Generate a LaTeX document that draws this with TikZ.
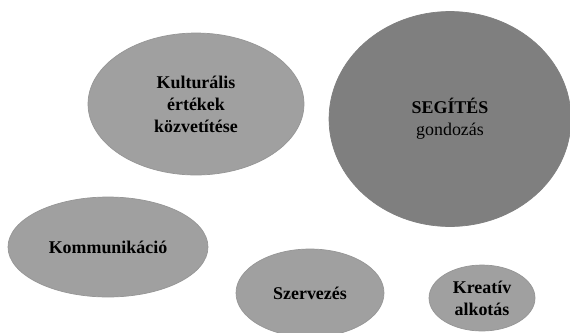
\documentclass[tikz,border=0pt]{standalone}
\usepackage{fontspec}
\setmainfont{Liberation Serif}
\usetikzlibrary{shapes.geometric, positioning}
\definecolor{BubbleGrey}{RGB}{160, 160, 160}
\definecolor{BubbleDark}{RGB}{127, 127, 127}
\definecolor{BubbleEdge}{RGB}{150, 150, 150}

\begin{document}
\begin{tikzpicture}[x=0.02cm, y=-0.02cm,
		bubble/.style={shape=ellipse, fill=BubbleGrey, draw=BubbleEdge, line width=0.4pt, inner sep=0pt, align=center, font=\fontsize{10.2}{12.5}\selectfont\bfseries},
		bigbubble/.style={bubble, fill=BubbleDark, draw=BubbleDark}]

		\useasboundingbox (0,0) rectangle (570,332);
		\clip (0,0) rectangle (570,332);

		% top row
		\node[bubble, minimum width=4.32cm, minimum height=2.84cm] (kultura) at (196,104) {Kulturális\\értékek\\közvetítése};
		\node[bigbubble, minimum width=4.84cm, minimum height=4.30cm] (segites) at (450,119) {SEGÍTÉS\\{\mdseries gondozás}};

		% bottom row
		\node[bubble, minimum width=4.0cm, minimum height=2.0cm] (komm) at (108,247) {Kommunikáció};
		\node[bubble, minimum width=2.96cm, minimum height=1.76cm] (szerv) at (310,293) {Szervezés};
		\node[bubble, minimum width=2.12cm, minimum height=1.32cm] (kreativ) at (482,298) {Kreatív\\alkotás};
	\end{tikzpicture}
\end{document}
